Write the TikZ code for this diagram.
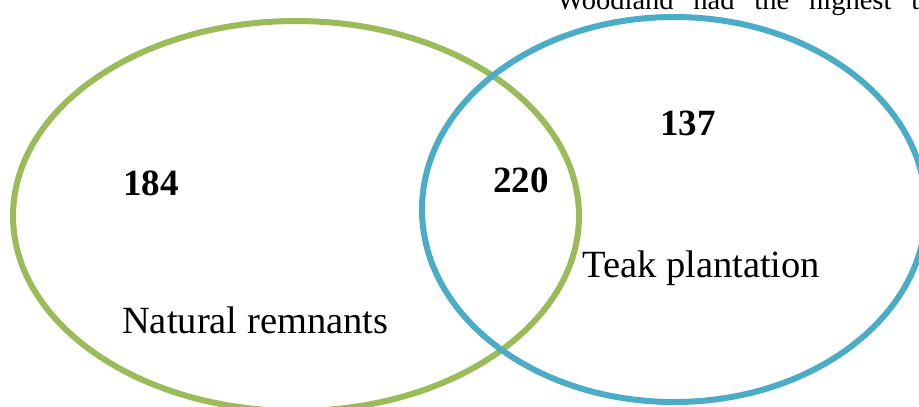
\documentclass[tikz,border=0pt]{standalone}
\usepackage{fontspec}
\setmainfont{Liberation Serif}
\usetikzlibrary{shapes.geometric}
\definecolor{vgreen}{HTML}{9BBB59}
\definecolor{vblue}{HTML}{4BACC6}
\tikzset{
  ring/.style={line width=6pt},
  num/.style={font=\fontsize{37}{40}\selectfont\bfseries, anchor=base west, inner sep=0pt},
  lbl/.style={font=\fontsize{38.5}{42}\selectfont, anchor=base west, inner sep=0pt},
  toptext/.style={font=\fontsize{28.5}{32}\selectfont, anchor=base west, inner sep=0pt}
}
\begin{document}
\begin{tikzpicture}[x=1pt,y=-1pt]
\useasboundingbox (0,0) rectangle (919,407);
\clip (0,0) rectangle (919,407);
\fill[white] (0,0) rectangle (919,407);
\node[toptext] (top) at (557,9.5) {\hbox to 362pt{Woodland\hfill had\hfill the\hfill highest\hfill t}};
\node[draw=vgreen, ring, ellipse, minimum width=566pt, minimum height=390pt, inner sep=0pt] (nat) at (296,216) {};
\node[draw=vblue, ring, ellipse, minimum width=504pt, minimum height=385pt, inner sep=0pt] (teak) at (674,209.5) {};
\node[num] (n184) at (123,195) {184};
\node[num] (n220) at (493,192) {220};
\node[num] (n137) at (660,135) {137};
\node[lbl] (lnat) at (122,333) {Natural remnants};
\node[lbl] (lteak) at (582,277) {Teak plantation};
\end{tikzpicture}
\end{document}
